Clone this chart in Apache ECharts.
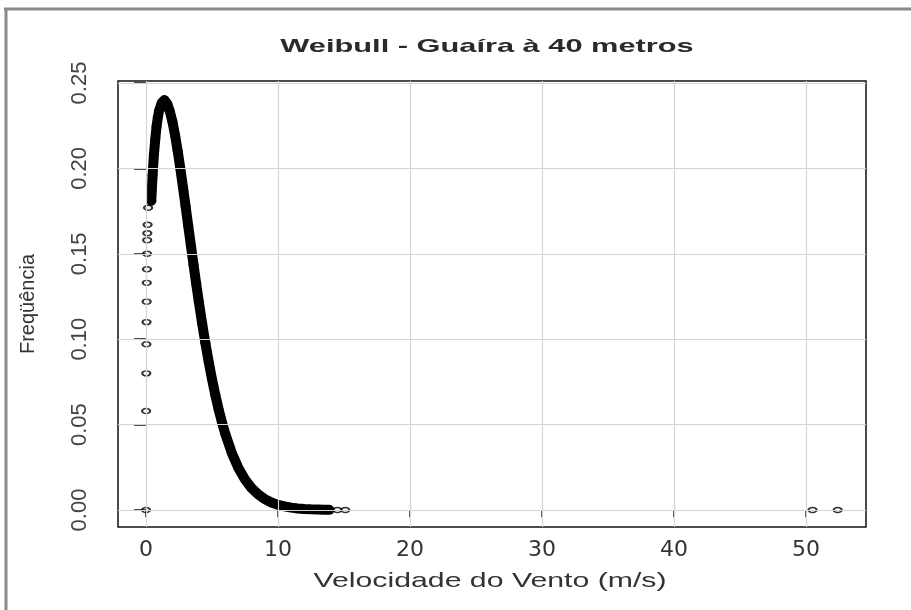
<!DOCTYPE html>
<html>
<head>
<meta charset="utf-8">
<script src="https://cdn.jsdelivr.net/npm/echarts@6/dist/echarts.min.js"></script>
<style>html,body{margin:0;padding:0;background:#fff}#c{width:911px;height:610px}</style>
</head>
<body>
<div id="c"></div>
<script>
// ---- data ----
const titleText = 'Weibull - Guaíra à 40 metros';
const xName = 'Velocidade do Vento (m/s)';
const yName = 'Freqüência';
const xTicks = [0, 10, 20, 30, 40, 50];
const yTicks = [0, 0.05, 0.10, 0.15, 0.20, 0.25];

// isolated points stacked near zero speed
const nearZeroX = [0, 0.01, 0.02, 0.03, 0.04, 0.05, 0.06, 0.07, 0.08, 0.09, 0.10, 0.12, 0.16];
const nearZeroY = [0, 0.058, 0.080, 0.097, 0.110, 0.122, 0.133, 0.141, 0.150, 0.158, 0.162, 0.167, 0.177];

// dense band of points along the curve
const curveX = [0.4, 0.5, 0.6, 0.7, 0.8, 0.9, 1.0, 1.2, 1.4, 1.6, 1.8, 2.0, 2.2, 2.4, 2.6, 2.8, 3.0, 3.2, 3.4, 3.6, 3.8, 4.0,
  4.25, 4.5, 4.75, 5.0, 5.25, 5.5, 5.75, 6.0, 6.5, 7.0, 7.5, 8.0, 8.5, 9.0, 9.5, 10, 10.5, 11, 11.5, 12, 12.5, 13, 13.5, 13.9];
const curveY = [0.181, 0.196, 0.208, 0.217, 0.2245, 0.230, 0.234, 0.2385, 0.240, 0.238, 0.2335, 0.2275, 0.2195, 0.2103, 0.2000,
  0.1891, 0.1778, 0.1663, 0.1549, 0.1436, 0.1326, 0.122, 0.1094, 0.0976, 0.0867, 0.0766, 0.0674, 0.059, 0.0515, 0.0447, 0.0334,
  0.0246, 0.0179, 0.0128, 0.0091, 0.0064, 0.0044, 0.0030, 0.0021, 0.0014, 0.0009, 0.0006, 0.0004, 0.0003, 0.0002, 0.0001];

// far outliers at zero density
const outlierX = [14.5, 15.1, 50.5, 52.4];
const outlierY = [0, 0, 0, 0];

// ---- build ----
const zip = (xs, ys) => xs.map((x, i) => [x, ys[i]]);
const curveData = zip(curveX, curveY);
const pointData = zip(nearZeroX, nearZeroY).concat(curveData, zip(outlierX, outlierY));

const gridMarks = xTicks.map(v => ({ xAxis: v })).concat(yTicks.map(v => ({ yAxis: v })));

const chart = echarts.init(document.getElementById('c'), null, { renderer: 'canvas' });
chart.setOption({
  backgroundColor: '#fff',
  animation: false,
  grid: { left: 118, top: 81, width: 748, height: 446, show: true, borderColor: '#111', borderWidth: 1.5, backgroundColor: 'transparent' },
  xAxis: {
    type: 'value', min: -2.121, max: 54.545,
    axisLine: { show: false },
    splitLine: { show: false },
    axisTick: { show: true, length: 7, inside: false, customValues: xTicks, lineStyle: { color: '#111', width: 1.5 } },
    axisLabel: { customValues: xTicks, margin: 12, fontFamily: 'DejaVu Sans', fontSize: 22, color: '#333' }
  },
  yAxis: {
    type: 'value', min: -0.00995, max: 0.25117,
    name: yName, nameLocation: 'middle', nameRotate: 90, nameGap: 80,
    nameTextStyle: { fontFamily: 'Liberation Sans', fontSize: 20, color: '#333' },
    axisLine: { show: false },
    splitLine: { show: false },
    axisTick: { show: true, length: 12, inside: false, customValues: yTicks, lineStyle: { color: '#111', width: 1.5 } },
    axisLabel: { customValues: yTicks, rotate: 90, margin: 27, fontFamily: 'Liberation Sans', fontSize: 22, color: '#444',
      formatter: v => v.toFixed(2) }
  },
  series: [
    {
      type: 'line', data: [], z: 1, silent: true,
      markLine: {
        silent: true, symbol: 'none', label: { show: false }, animation: false,
        lineStyle: { type: 'solid', color: '#d4d4d4', width: 1.2 },
        data: gridMarks
      }
    },
    {
      type: 'scatter', data: pointData, z: 2, symbol: 'circle', symbolSize: [8, 5],
      itemStyle: { color: 'rgba(0,0,0,0)', borderColor: '#000', borderWidth: 1.8 }
    },
    {
      type: 'line', data: curveData, z: 3, symbol: 'none', smooth: false,
      lineStyle: { color: '#000', width: 10, cap: 'round', join: 'round' }
    }
  ],
  graphic: [
    { type: 'line', silent: true, shape: { x1: 4, y1: 9, x2: 911, y2: 9 }, style: { stroke: '#8a8a8a', lineWidth: 3 } },
    { type: 'line', silent: true, shape: { x1: 6, y1: 8, x2: 6, y2: 610 }, style: { stroke: '#8a8a8a', lineWidth: 3 } },
    { type: 'text', x: 487, y: 47, scaleX: 1.62,
      style: { text: titleText, fontFamily: 'Liberation Sans', fontWeight: 'bold', fontSize: 19, fill: '#2a2a2a', align: 'center', verticalAlign: 'middle' } },
    { type: 'text', x: 490, y: 581, scaleX: 1.44,
      style: { text: xName, fontFamily: 'Liberation Sans', fontSize: 21, fill: '#333', align: 'center', verticalAlign: 'middle' } }
  ]
});
</script>
</body>
</html>
